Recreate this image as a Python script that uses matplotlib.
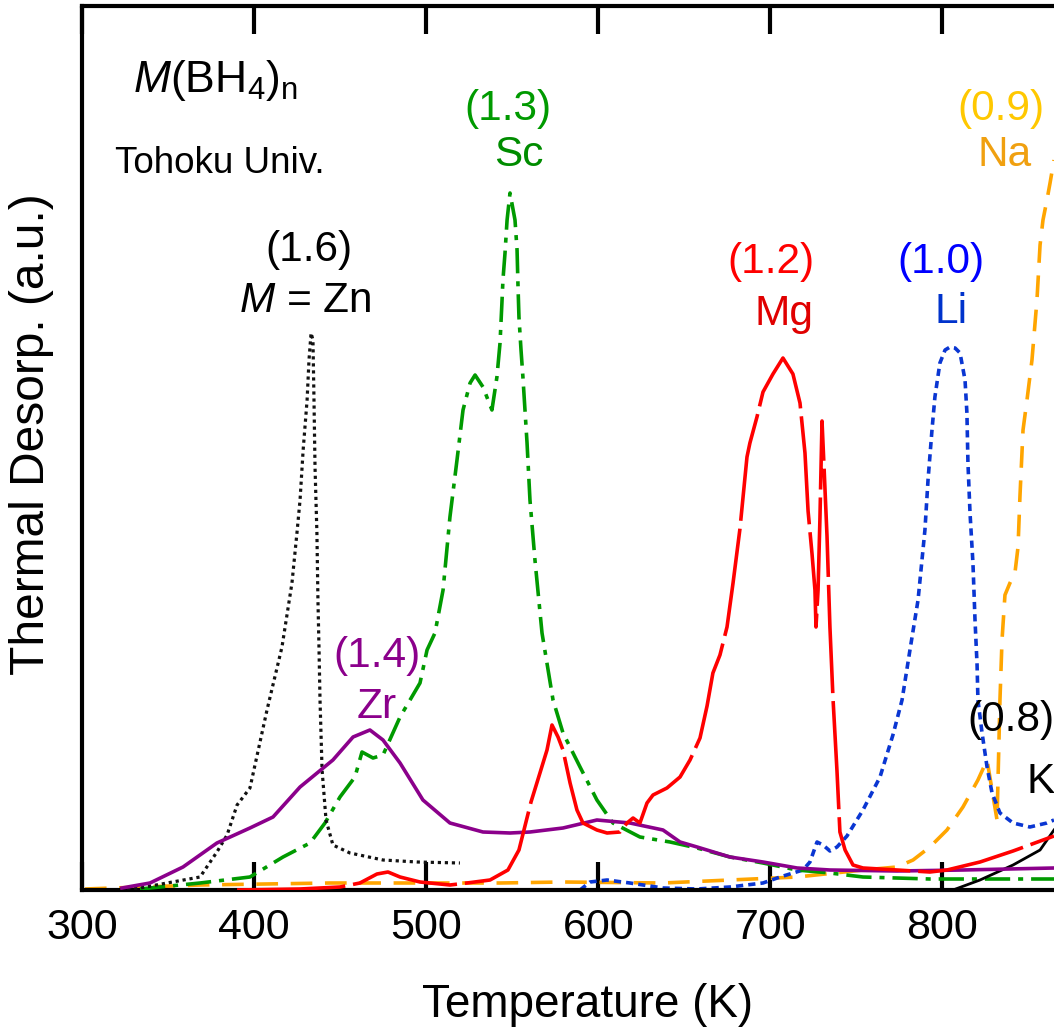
import matplotlib
matplotlib.use("Agg")
import matplotlib.pyplot as plt

plt.rcParams['font.family'] = ['Liberation Sans', 'DejaVu Sans']
plt.rcParams['mathtext.fontset'] = 'custom'
plt.rcParams['mathtext.rm'] = 'Liberation Sans'
plt.rcParams['mathtext.it'] = 'Liberation Sans:italic'

# Thermal desorption spectra of M(BH4)n, temperature (K) vs intensity (a.u.)
zn_T = [322.1, 333.7, 349.4, 368.6, 378.4, 384.3, 390.1, 397.6, 407.5, 416.2, 422.0, 424.9,
        426.7, 428.5, 430.8, 431.9, 433.1, 434.2, 434.8, 435.4, 436.5, 437.1, 437.7, 438.3,
        439.5, 441.8, 445.8, 455.7, 474.9, 494.7, 519.6]
zn_I = [0.1, 0.2, 0.7, 1.3, 3.8, 5.5, 8.5, 10.2, 18.0, 24.3, 30.7, 35.7,
        39.0, 44.0, 49.0, 53.0, 55.7, 55.0, 49.0, 42.3, 35.7, 29.0, 24.3, 19.0,
        12.0, 7.0, 4.5, 3.7, 3.0, 2.8, 2.7]

zr_T = [323.2, 339.5, 358.7, 378.4, 397.6, 411.0, 426.7, 445.8, 457.5, 467.3, 474.9, 484.8,
        498.1, 513.8, 533.0, 548.7, 560.3, 579.5, 599.2, 618.4, 637.6, 647.5, 657.4, 676.5,
        695.7, 715.5, 734.6, 773.6, 811.9, 864.8]
zr_I = [0.2, 0.7, 2.3, 4.7, 6.2, 7.3, 10.3, 13.0, 15.3, 16.0, 15.0, 12.7,
        9.0, 6.7, 5.8, 5.7, 5.8, 6.2, 7.0, 6.7, 6.0, 4.8, 4.3, 3.3,
        2.8, 2.2, 2.0, 1.9, 2.0, 2.2]

sc_T = [333.7, 368.6, 397.6, 416.8, 432.5, 441.2, 449.9, 458.6, 462.7, 469.1, 474.9, 484.8,
        496.4, 500.5, 505.1, 509.8, 513.8, 517.9, 521.4, 525.5, 528.4, 533.0, 538.2, 541.1,
        542.9, 544.0, 544.6, 545.8, 547.0, 548.7, 551.6, 552.8, 553.3, 553.9, 555.1, 556.2,
        558.6, 560.3, 563.2, 567.3, 573.7, 579.5, 589.4, 599.2, 608.5, 624.2, 641.7, 657.4,
        676.5, 695.7, 715.5, 734.6, 753.8, 792.7, 864.8]
sc_I = [0.1, 0.7, 1.3, 3.3, 4.7, 6.7, 9.3, 11.3, 13.8, 13.2, 13.5, 17.3,
        20.7, 24.0, 25.7, 30.0, 37.3, 43.0, 48.0, 50.7, 51.5, 50.3, 48.0, 51.3,
        54.7, 58.7, 61.0, 63.7, 67.0, 69.7, 67.0, 64.0, 60.7, 57.3, 54.0, 51.3,
        44.7, 39.0, 33.0, 25.7, 19.0, 15.7, 12.3, 9.0, 6.7, 5.3, 4.8, 4.2,
        3.3, 2.7, 2.0, 1.7, 1.3, 1.1, 1.1]

mg_T = [390.1, 426.7, 449.9, 461.5, 471.4, 477.8, 484.8, 496.4, 513.8, 523.7, 537.1, 547.5,
        553.9, 560.9, 566.1, 570.2, 573.1, 576.6, 579.5, 583.6, 587.6, 591.1, 599.2, 605.1,
        612.6, 616.7, 620.2, 624.2, 628.3, 631.8, 639.9, 647.5, 653.3, 659.1, 663.2, 666.6,
        670.7, 674.8, 678.3, 682.3, 686.4, 688.1, 692.2, 695.7, 701.5, 707.3, 713.1, 717.2,
        720.1, 721.9, 724.2, 725.9, 726.5, 727.7, 728.8, 730.0, 731.1, 732.9, 734.6, 736.4,
        738.7, 740.4, 743.4, 748.0, 753.8, 773.6, 792.7, 802.6, 821.8, 841.0, 864.8]
mg_I = [0.0, 0.1, 0.3, 0.7, 1.6, 1.8, 1.3, 0.8, 0.5, 0.7, 1.0, 2.0,
        4.0, 8.8, 11.7, 14.0, 16.5, 15.3, 14.0, 10.7, 8.0, 6.7, 6.0, 5.7,
        5.8, 6.7, 7.2, 6.7, 8.7, 9.5, 10.2, 11.3, 13.0, 15.2, 18.4, 21.7,
        23.5, 26.3, 30.7, 36.1, 43.3, 44.7, 47.3, 49.8, 51.6, 53.2, 51.6, 48.7,
        43.7, 37.9, 33.6, 30.0, 26.3, 30.0, 37.2, 46.9, 42.6, 35.4, 26.3, 19.1,
        11.9, 5.8, 4.0, 2.5, 2.2, 2.0, 1.8, 2.0, 2.8, 3.9, 5.4]

li_T = [589.4, 595.2, 605.1, 618.4, 637.6, 657.4, 676.5, 695.7, 705.6, 718.9, 723.0, 727.1,
        730.6, 734.6, 738.7, 744.5, 753.8, 763.7, 771.2, 776.5, 781.1, 785.8, 789.8, 791.6,
        793.9, 795.6, 798.5, 801.5, 804.4, 807.3, 810.2, 813.1, 814.2, 814.8, 816.0, 817.7,
        818.9, 820.1, 820.6, 823.0, 825.9, 828.8, 833.4, 841.0, 850.8, 860.7, 864.8]
li_I = [0.0, 0.8, 1.0, 0.7, 0.2, 0.1, 0.3, 0.7, 1.3, 2.0, 2.8, 4.8,
        4.5, 3.9, 4.3, 5.4, 8.0, 11.3, 15.5, 19.0, 24.0, 29.0, 36.0, 41.0,
        46.0, 49.3, 52.7, 54.0, 54.3, 54.2, 53.7, 51.0, 47.7, 42.7, 37.7, 32.7,
        27.0, 22.5, 19.0, 15.7, 12.3, 9.7, 7.7, 6.7, 6.3, 6.7, 7.0]

na_T = [301.7, 368.6, 444.1, 542.9, 579.5, 637.6, 676.5, 715.5, 753.8, 773.6, 782.9, 792.7,
        802.6, 811.9, 820.6, 825.9, 828.8, 831.7, 833.4, 834.6, 836.3, 839.2, 842.1, 843.9,
        845.0, 846.8, 849.1, 852.0, 854.9, 856.7, 858.4, 860.7, 862.5, 864.8]
na_I = [0.1, 0.5, 0.7, 0.7, 0.8, 0.7, 1.0, 1.3, 2.0, 2.3, 3.0, 4.3,
        6.0, 8.3, 11.0, 13.0, 10.0, 7.0, 19.0, 25.0, 29.5, 30.7, 31.7, 34.3,
        39.3, 46.0, 49.0, 53.0, 59.0, 64.5, 67.0, 69.0, 70.7, 73.0]

k_T = [806.1, 821.8, 841.0, 856.7, 864.8]
k_I = [0.0, 1.0, 2.5, 4.0, 6.0]

x_ticks = [300, 400, 500, 600, 700, 800]

fig = plt.figure(figsize=(10.54, 10.29), dpi=100)
ax = fig.add_axes([82 / 1054, 139 / 1029, 972 / 1054, 884 / 1029])

lw = 2.6
ax.plot(na_T, na_I, color='#FFA500', lw=lw, linestyle=(0, (6, 3.5)), zorder=2)
ax.plot(li_T, li_I, color='#0A36D2', lw=lw, linestyle=(0, (2, 1.4)), zorder=2)
ax.plot(sc_T, sc_I, color='#009A00', lw=lw, linestyle=(0, (7, 2.2, 1.4, 2.2)), zorder=3)
ax.plot(zr_T, zr_I, color='#8B008B', lw=lw, zorder=4)
ax.plot(mg_T, mg_I, color='#FF0000', lw=lw, linestyle=(0, (30, 2.2)), zorder=5)
ax.plot(zn_T, zn_I, color='#111111', lw=2.3, linestyle=(0, (1, 1.2)), zorder=3)
ax.plot(k_T, k_I, color='black', lw=2.0, zorder=3)

ax.set_xlim(300, 864.8)
ax.set_ylim(0, 88.4)
ax.set_xticks(x_ticks)
ax.set_xticklabels([str(t) for t in x_ticks])
ax.set_yticks([])
ax.tick_params(axis='x', which='both', direction='in', length=20, width=3,
               top=True, bottom=True, labeltop=False, labelsize=31, pad=13)
for side in ('left', 'top', 'bottom'):
    ax.spines[side].set_linewidth(3)
ax.spines['right'].set_visible(False)

fig.text(588 / 1054, 12 / 1029, 'Temperature (K)', fontsize=33,
         ha='center', va='baseline')
fig.text(32 / 1054, (1029 - 434) / 1029, 'Thermal Desorp. (a.u.)', fontsize=34.5,
         rotation=90, ha='center', va='center')

fs = 30.5
ax.text(329.6, 79.8, r'$\mathit{M}\mathrm{(BH_4)_n}$', fontsize=32, ha='left', va='baseline')
ax.text(319.2, 71.7, 'Tohoku Univ.', fontsize=26.5, ha='left', va='baseline')

ax.text(431.9, 62.9, '(1.6)', fontsize=fs, ha='center', va='baseline', color='black')
ax.text(429.6, 57.8, r'$\mathit{M}$ = Zn', fontsize=fs, ha='center', va='baseline', color='black')
ax.text(547.5, 77.0, '(1.3)', fontsize=fs, ha='center', va='baseline', color='#009A00')
ax.text(553.9, 72.4, 'Sc', fontsize=fs, ha='center', va='baseline', color='#008C00')
ax.text(471.4, 22.3, '(1.4)', fontsize=fs, ha='center', va='baseline', color='#8B008B')
ax.text(471.4, 17.2, 'Zr', fontsize=fs, ha='center', va='baseline', color='#8B008B')
ax.text(700.4, 61.7, '(1.2)', fontsize=fs, ha='center', va='baseline', color='#FF0000')
ax.text(707.9, 56.5, 'Mg', fontsize=fs, ha='center', va='baseline', color='#E00000')
ax.text(799.1, 61.7, '(1.0)', fontsize=fs, ha='center', va='baseline', color='#0000FF')
ax.text(804.9, 56.7, 'Li', fontsize=fs, ha='center', va='baseline', color='#0033CC')
ax.text(834.0, 77.0, '(0.9)', fontsize=fs, ha='center', va='baseline', color='#FFC800')
ax.text(836.3, 72.4, 'Na', fontsize=fs, ha='center', va='baseline', color='#F0A010')
ax.text(814.2, 15.9, '(0.8)', fontsize=fs, ha='left', va='baseline', color='black')
ax.text(849.1, 9.7, 'K', fontsize=fs, ha='left', va='baseline', color='black')

fig.savefig('out.png', dpi=100)
